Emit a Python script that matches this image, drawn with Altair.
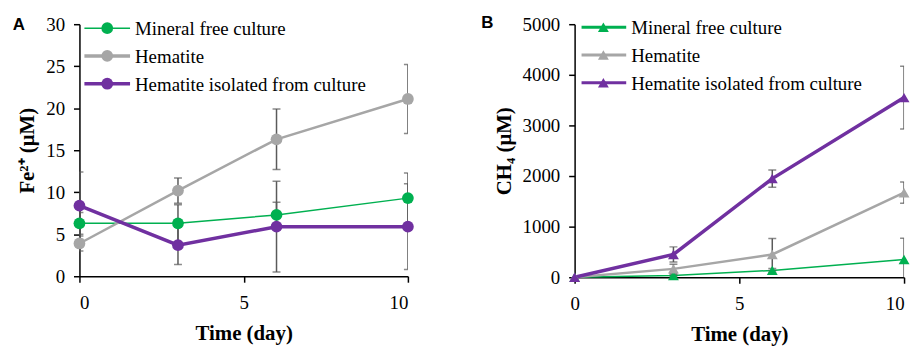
import altair as alt
import pandas as pd

series = ["Mineral free culture", "Hematite", "Hematite isolated from culture"]
colors = ["#00b050", "#a6a6a6", "#7030a0"]
days = [0, 3, 6, 10]

# Panel A: Fe2+ (uM)
fe_mineral = [6.3, 6.3, 7.3, 9.3]
fe_mineral_err = [1.3, 2.2, 1.5, 3.0]
fe_hematite = [3.9, 10.2, 16.3, 21.1]
fe_hematite_err = [0.9, 1.5, 3.6, 4.1]
fe_isolated = [8.4, 3.7, 5.9, 5.9]
fe_isolated_err = [4.0, 2.3, 5.4, 5.1]

# Panel B: CH4 (uM)
ch4_mineral = [0, 35, 135, 350]
ch4_mineral_err = [0, 20, 40, 420]
ch4_hematite = [0, 165, 450, 1670]
ch4_hematite_err = [0, 90, 315, 210]
ch4_isolated = [0, 450, 1950, 3550]
ch4_isolated_err = [0, 150, 170, 620]

x_ticks = [0, 5, 10]
fe_ticks = [0, 5, 10, 15, 20, 25, 30]
ch4_ticks = [0, 1000, 2000, 3000, 4000, 5000]

SERIF = "Liberation Serif"
ERR_COLOR = "#5a5a5a"


def make_df(vals, errs):
    rows = []
    for s, v, e in zip(series, vals, errs):
        for d, vi, ei in zip(days, v, e):
            rows.append({"day": d, "value": vi, "lo": vi - ei, "hi": vi + ei, "series": s})
    return pd.DataFrame(rows)


def panel(df, ymax, yticks, ytitle, letter, shape, msize, widths, geo, last_right=False):
    w, h, letter_xy, leg = geo
    xs = alt.Scale(domain=[0, 10], nice=False)
    ys = alt.Scale(domain=[0, ymax], nice=False)
    xaxis_kw = dict(values=x_ticks, title="Time (day)", format="d", labelFont=SERIF, titleFont=SERIF)
    if last_right:
        xaxis_kw["labelAlign"] = alt.condition("datum.value == 10", alt.value("right"), alt.value("center"))
    x = alt.X("day:Q", scale=xs, axis=alt.Axis(**xaxis_kw))
    y = alt.Y("value:Q", scale=ys, axis=alt.Axis(values=yticks, title=ytitle, format="d",
                                                 labelFont=SERIF, titleFont=SERIF))
    color = alt.Color("series:N", scale=alt.Scale(domain=series, range=colors), legend=None)
    sw = alt.StrokeWidth("series:N", scale=alt.Scale(domain=series, range=widths), legend=None)

    base = alt.Chart(df)
    lines = base.mark_line().encode(x=x, y=y, color=color, strokeWidth=sw, detail="series:N")
    rules = base.mark_rule(color=ERR_COLOR, strokeWidth=1.5, clip=True).encode(
        x="day:Q", y="lo:Q", y2="hi:Q")
    caps_hi = base.transform_filter("datum.hi > datum.value").mark_tick(
        orient="horizontal", size=8, thickness=1.5, color=ERR_COLOR, clip=True).encode(x="day:Q", y="hi:Q")
    caps_lo = base.transform_filter("datum.lo < datum.value").mark_tick(
        orient="horizontal", size=8, thickness=1.5, color=ERR_COLOR, clip=True).encode(x="day:Q", y="lo:Q")
    pts = base.mark_point(filled=True, shape=shape, size=msize, opacity=1).encode(
        x="day:Q", y="value:Q", color=color)

    layers = [lines, rules, caps_hi, caps_lo, pts]

    lx0, lx1, mx, tx, ly0, ldy = leg
    for i, s in enumerate(series):
        d = pd.DataFrame({"series": [s]})
        yy = ly0 + i * ldy
        layers.append(alt.Chart(d).mark_rule(color=colors[i], strokeWidth=widths[i]).encode(
            x=alt.value(lx0), x2=alt.value(lx1), y=alt.value(yy)))
        layers.append(alt.Chart(d).mark_point(filled=True, shape=shape, size=msize, opacity=1,
                                              color=colors[i]).encode(
            x=alt.value(mx), y=alt.value(yy)))
        layers.append(alt.Chart(d).mark_text(font=SERIF, fontSize=19, align="left",
                                             baseline="middle", color="black").encode(
            x=alt.value(tx), y=alt.value(yy + 1), text="series:N"))

    layers.append(alt.Chart(pd.DataFrame({"t": [letter]})).mark_text(
        font="Liberation Sans", fontWeight="bold", fontSize=17, align="center",
        baseline="middle", color="black").encode(
        x=alt.value(letter_xy[0]), y=alt.value(letter_xy[1]), text="t:N"))

    return alt.layer(*layers).properties(width=w, height=h)


dfA = make_df([fe_mineral, fe_hematite, fe_isolated],
              [fe_mineral_err, fe_hematite_err, fe_isolated_err])
dfB = make_df([ch4_mineral, ch4_hematite, ch4_isolated],
              [ch4_mineral_err, ch4_hematite_err, ch4_isolated_err])

pA = panel(dfA, 30, fe_ticks, "Fe²⁺ (μM)", "A", "circle", 140, [1.5, 3.5, 3.5],
           (331, 254, (-61, 1), (5, 51, 28, 56, 4, 28)))
pB = panel(dfB, 5000, ch4_ticks, "CH₄ (μM)", "B", "triangle-up", 120, [3, 3, 3],
           (332, 255, (-88, -1), (7, 52, 29, 57, 3, 28)), last_right=True)

chart = alt.hconcat(pA, pB, spacing=66).properties(
    padding={"left": 4, "right": 0, "top": 5, "bottom": 5}
).configure_view(stroke=None).configure_axis(
    grid=False,
    domainColor="black",
    domainWidth=1.5,
    tickColor="black",
    tickWidth=1.5,
    tickSize=6,
    labelFontSize=19,
    labelColor="black",
    titleFontSize=21,
    titleFontWeight="bold",
    titleColor="black",
).configure_axisY(labelPadding=9, titlePadding=8).configure_axisX(labelPadding=12, titlePadding=10)

chart.save("out.html", embed_options={"renderer": "svg", "actions": False})
